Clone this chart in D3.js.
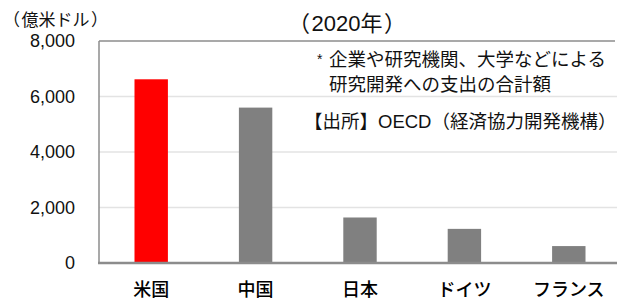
<!DOCTYPE html>
<html lang="ja">
<head>
<meta charset="UTF-8">
<title>研究開発費 2020年</title>
<script src="https://cdnjs.cloudflare.com/ajax/libs/d3/7.8.5/d3.min.js"></script>
<style>
    body { margin: 0; background: #fff; }
    svg { display: block; font-family: "Liberation Sans", Arial, "Noto Sans CJK JP", sans-serif; }
    text { text-spacing-trim: space-all; font-feature-settings: "chws" 0, "halt" 0, "palt" 0; }
    .grid line { stroke: #e3e3e3; stroke-width: 1.5px; }
    .tick-label { font-size: 18px; fill: #111; }
    .cat-label { font-size: 18px; fill: #000; font-weight: 500; }
    .note { font-size: 18.5px; fill: #111; }
</style>
</head>
<body>
<div id="chart"></div>
<script>
    // data (億米ドル)
    const countries = ["米国", "中国", "日本", "ドイツ", "フランス"];
    const spending = [6620, 5600, 1640, 1230, 610];
    const barColors = ["#ff0000", "#808080", "#808080", "#808080", "#808080"];
    const yTicks = [0, 2000, 4000, 6000, 8000];

    const width = 617, height = 300;
    const plot = { left: 99, right: 621, top: 41, bottom: 263 };

    const svg = d3.select("#chart").append("svg")
        .attr("width", width)
        .attr("height", height);

    const x = d3.scaleBand()
        .domain(countries)
        .range([plot.left, plot.right])
        .paddingInner(0.68)
        .paddingOuter(0.34);

    const y = d3.scaleLinear()
        .domain([0, 8000])
        .range([plot.bottom, plot.top]);

    // gridlines
    svg.append("g").attr("class", "grid")
        .selectAll("line")
        .data(yTicks.filter(d => d > 0 && d < 8000))
        .enter().append("line")
        .attr("x1", plot.left).attr("x2", width)
        .attr("y1", d => y(d)).attr("y2", d => y(d));

    // frame: top + left
    svg.append("line")
        .attr("x1", plot.left).attr("x2", width - 2)
        .attr("y1", y(8000)).attr("y2", y(8000))
        .attr("stroke", "#8c8c8c").attr("stroke-width", 1.5);
    svg.append("line")
        .attr("x1", plot.left).attr("x2", plot.left)
        .attr("y1", y(8000)).attr("y2", y(0))
        .attr("stroke", "#8c8c8c").attr("stroke-width", 1.5);

    // bars
    svg.selectAll(".bar")
        .data(countries)
        .enter().append("rect")
        .attr("class", "bar")
        .attr("x", d => x(d))
        .attr("width", x.bandwidth())
        .attr("y", (d, i) => y(spending[i]))
        .attr("height", (d, i) => y(0) - y(spending[i]))
        .attr("fill", (d, i) => barColors[i]);

    // x axis line
    svg.append("line")
        .attr("x1", plot.left - 1).attr("x2", width)
        .attr("y1", y(0)).attr("y2", y(0))
        .attr("stroke", "#8c8c8c").attr("stroke-width", 2.5);

    // y tick labels
    svg.selectAll(".tick-label")
        .data(yTicks)
        .enter().append("text")
        .attr("class", "tick-label")
        .attr("x", 75)
        .attr("y", d => y(d))
        .attr("dy", "0.35em")
        .attr("text-anchor", "end")
        .text(d => d3.format(",")(d));

    // category labels
    svg.selectAll(".cat-label")
        .data(countries)
        .enter().append("text")
        .attr("class", "cat-label")
        .attr("x", d => x(d) + x.bandwidth() / 2)
        .attr("y", 296)
        .attr("text-anchor", "middle")
        .text(d => d);

    // bracketed text, a little room added inside the brackets
    function bracketed(px, py, inner, size, gap, anchor) {
        const t = svg.append("text").attr("class", "note")
            .attr("x", px).attr("y", py)
            .attr("text-anchor", anchor || "start")
            .style("font-size", size + "px");
        t.append("tspan").text("（");
        t.append("tspan").attr("dx", gap).text(inner);
        t.append("tspan").attr("dx", gap).text("）");
        return t;
    }

    // unit + title
    bracketed(3, 26, "億米ドル", 17, 1.5);
    bracketed(347, 31, "2020年", 22, 1.5, "middle");

    // notes
    svg.append("text").attr("class", "note")
        .attr("x", 317).attr("y", 64)
        .style("font-size", "14px")
        .text("*");
    svg.append("text").attr("class", "note")
        .attr("x", 329).attr("y", 66)
        .text("企業や研究機関、大学などによる");
    svg.append("text").attr("class", "note")
        .attr("x", 329).attr("y", 91)
        .text("研究開発への支出の合計額");
    svg.append("text").attr("class", "note")
        .attr("x", 304).attr("y", 128)
        .text("【出所】OECD（経済協力開発機構）");
</script>
</body>
</html>
